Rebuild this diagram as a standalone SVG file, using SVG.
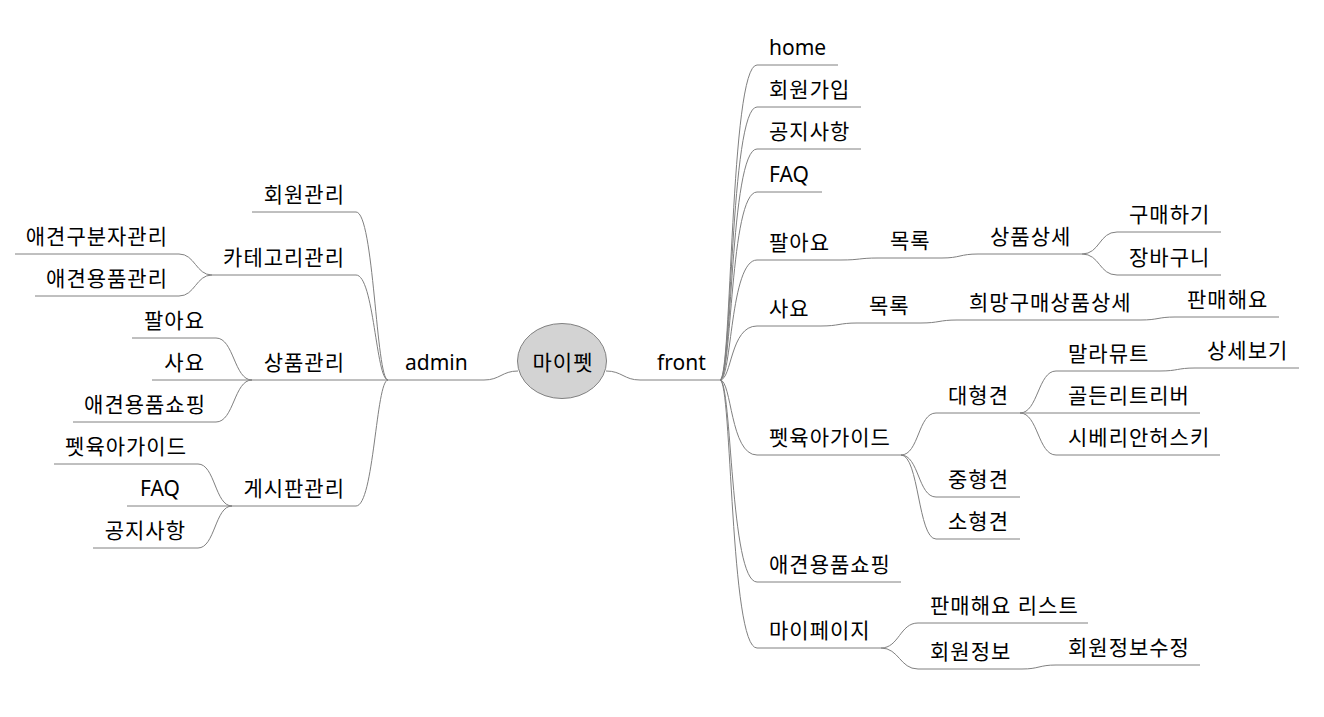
<svg xmlns="http://www.w3.org/2000/svg" width="1324" height="717" viewBox="0 0 1324 717">
<style>
.e{fill:none;stroke:#808080;stroke-width:1}
text{font-family:"Noto Sans","Noto Sans CJK KR",sans-serif;fill:#000}
.k{font-size:21px;letter-spacing:1px}
.l{font-size:21px}
.r{text-anchor:end}
</style>
<rect width="1324" height="717" fill="#fff"/>
<g id="connectors">
<path class="e" d="M606,371 C622,371 624,380 640,380 L720,380"/>
<path class="e" d="M518,371 C502,371 500,380 484,380 L388,380"/>
<path class="e" d="M720,380 C732,380 730,65 757,65 L838,65"/>
<path class="e" d="M720,380 C732,380 730,107 757,107 L861,107"/>
<path class="e" d="M720,380 C732,380 730,149 757,149 L861,149"/>
<path class="e" d="M720,380 C732,380 730,192 757,192 L822,192"/>
<path class="e" d="M720,380 C732,380 730,260 757,260 L841,260"/>
<path class="e" d="M720,380 C732,380 730,326 757,326 L821,326"/>
<path class="e" d="M720,380 C732,380 730,455 757,455 L901,455"/>
<path class="e" d="M720,380 C732,380 730,582 757,582 L901,582"/>
<path class="e" d="M720,380 C732,380 730,648 757,648 L881,648"/>
<path class="e" d="M841,260 C860,260 859,258 878,258 L942,258"/>
<path class="e" d="M942,258 C960,258 960,254 978,254 L1082,254"/>
<path class="e" d="M1082,254 C1100,254 1099,232 1117,232 L1221,232"/>
<path class="e" d="M1082,254 C1100,254 1099,275 1117,275 L1221,275"/>
<path class="e" d="M821,326 C839,326 839,323 857,323 L921,323"/>
<path class="e" d="M921,323 C939,323 939,320 957,320 L1141,320"/>
<path class="e" d="M1141,320 C1158,320 1158,317 1175,317 L1279,317"/>
<path class="e" d="M901,455 C919,455 918,413 936,413 L1020,413"/>
<path class="e" d="M901,455 C919,455 918,497 936,497 L1020,497"/>
<path class="e" d="M901,455 C919,455 918,539 936,539 L1020,539"/>
<path class="e" d="M1020,413 C1038,413 1038,371 1056,371 L1160,371"/>
<path class="e" d="M1160,371 C1178,371 1177,368 1195,368 L1299,368"/>
<path class="e" d="M1020,413 L1200,413"/>
<path class="e" d="M1020,413 C1038,413 1038,455 1056,455 L1220,455"/>
<path class="e" d="M881,648 C899,648 900,623 918,623 L1088,623"/>
<path class="e" d="M881,648 C899,648 900,669 918,669 L1022,669"/>
<path class="e" d="M1022,669 C1039,669 1039,665 1056,665 L1200,665"/>
<path class="e" d="M388,380 C376,380 374,212 356,212 L252,212"/>
<path class="e" d="M388,380 C376,380 374,275 356,275 L212,275"/>
<path class="e" d="M388,380 L252,380"/>
<path class="e" d="M388,380 C376,380 374,506 356,506 L232,506"/>
<path class="e" d="M212,275 C196,275 195,254 179,254 L15,254"/>
<path class="e" d="M212,275 C196,275 195,296 179,296 L35,296"/>
<path class="e" d="M252,380 C234,380 234,338 216,338 L132,338"/>
<path class="e" d="M252,380 L152,380"/>
<path class="e" d="M252,380 C234,380 234,422 216,422 L73,422"/>
<path class="e" d="M232,506 C215,506 215,464 198,464 L54,464"/>
<path class="e" d="M232,506 L127,506"/>
<path class="e" d="M232,506 C215,506 215,548 198,548 L93,548"/>
</g>
<g id="root"><ellipse cx="562" cy="361" rx="44.5" ry="37.5" fill="#d3d3d3" stroke="#808080"/><text class="k" x="563" y="370" text-anchor="middle">마이펫</text></g>
<g id="front"><text class="l" x="657" y="370">front</text></g>
<g id="admin"><text class="l" x="405" y="370">admin</text></g>
<g id="home"><text class="l" x="769" y="55">home</text></g>
<g id="join"><text class="k" x="769" y="97">회원가입</text></g>
<g id="notice"><text class="k" x="769" y="139">공지사항</text></g>
<g id="faq"><text class="l" x="769" y="182">FAQ</text></g>
<g id="sell"><text class="k" x="769" y="250">팔아요</text></g>
<g id="sell-list"><text class="k" x="890" y="248">목록</text></g>
<g id="sell-detail"><text class="k" x="990" y="244">상품상세</text></g>
<g id="buy"><text class="k" x="1129" y="222">구매하기</text></g>
<g id="cart"><text class="k" x="1129" y="265">장바구니</text></g>
<g id="buyreq"><text class="k" x="769" y="316">사요</text></g>
<g id="buyreq-list"><text class="k" x="869" y="313">목록</text></g>
<g id="buyreq-detail"><text class="k" x="969" y="310">희망구매상품상세</text></g>
<g id="sell-offer"><text class="k" x="1187" y="307">판매해요</text></g>
<g id="guide"><text class="k" x="769" y="445">펫육아가이드</text></g>
<g id="large"><text class="k" x="948" y="403">대형견</text></g>
<g id="medium"><text class="k" x="948" y="487">중형견</text></g>
<g id="small"><text class="k" x="948" y="529">소형견</text></g>
<g id="malamute"><text class="k" x="1068" y="361">말라뮤트</text></g>
<g id="malamute-detail"><text class="k" x="1207" y="358">상세보기</text></g>
<g id="golden"><text class="k" x="1068" y="403">골든리트리버</text></g>
<g id="husky"><text class="k" x="1068" y="445">시베리안허스키</text></g>
<g id="shop"><text class="k" x="769" y="572">애견용품쇼핑</text></g>
<g id="mypage"><text class="k" x="769" y="638">마이페이지</text></g>
<g id="my-sell-list"><text class="k" x="930" y="613">판매해요 리스트</text></g>
<g id="my-info"><text class="k" x="930" y="659">회원정보</text></g>
<g id="my-info-edit"><text class="k" x="1068" y="655">회원정보수정</text></g>
<g id="a-member"><text class="k r" x="345" y="202">회원관리</text></g>
<g id="a-category"><text class="k r" x="345" y="265">카테고리관리</text></g>
<g id="a-cat-breed"><text class="k r" x="168" y="244">애견구분자관리</text></g>
<g id="a-cat-goods"><text class="k r" x="168" y="286">애견용품관리</text></g>
<g id="a-product"><text class="k r" x="345" y="370">상품관리</text></g>
<g id="a-sell"><text class="k r" x="205" y="328">팔아요</text></g>
<g id="a-buy"><text class="k r" x="205" y="370">사요</text></g>
<g id="a-shop"><text class="k r" x="206" y="412">애견용품쇼핑</text></g>
<g id="a-board"><text class="k r" x="345" y="496">게시판관리</text></g>
<g id="a-guide"><text class="k r" x="187" y="454">펫육아가이드</text></g>
<g id="a-faq"><text class="l r" x="180" y="496">FAQ</text></g>
<g id="a-notice"><text class="k r" x="186" y="538">공지사항</text></g>
</svg>
